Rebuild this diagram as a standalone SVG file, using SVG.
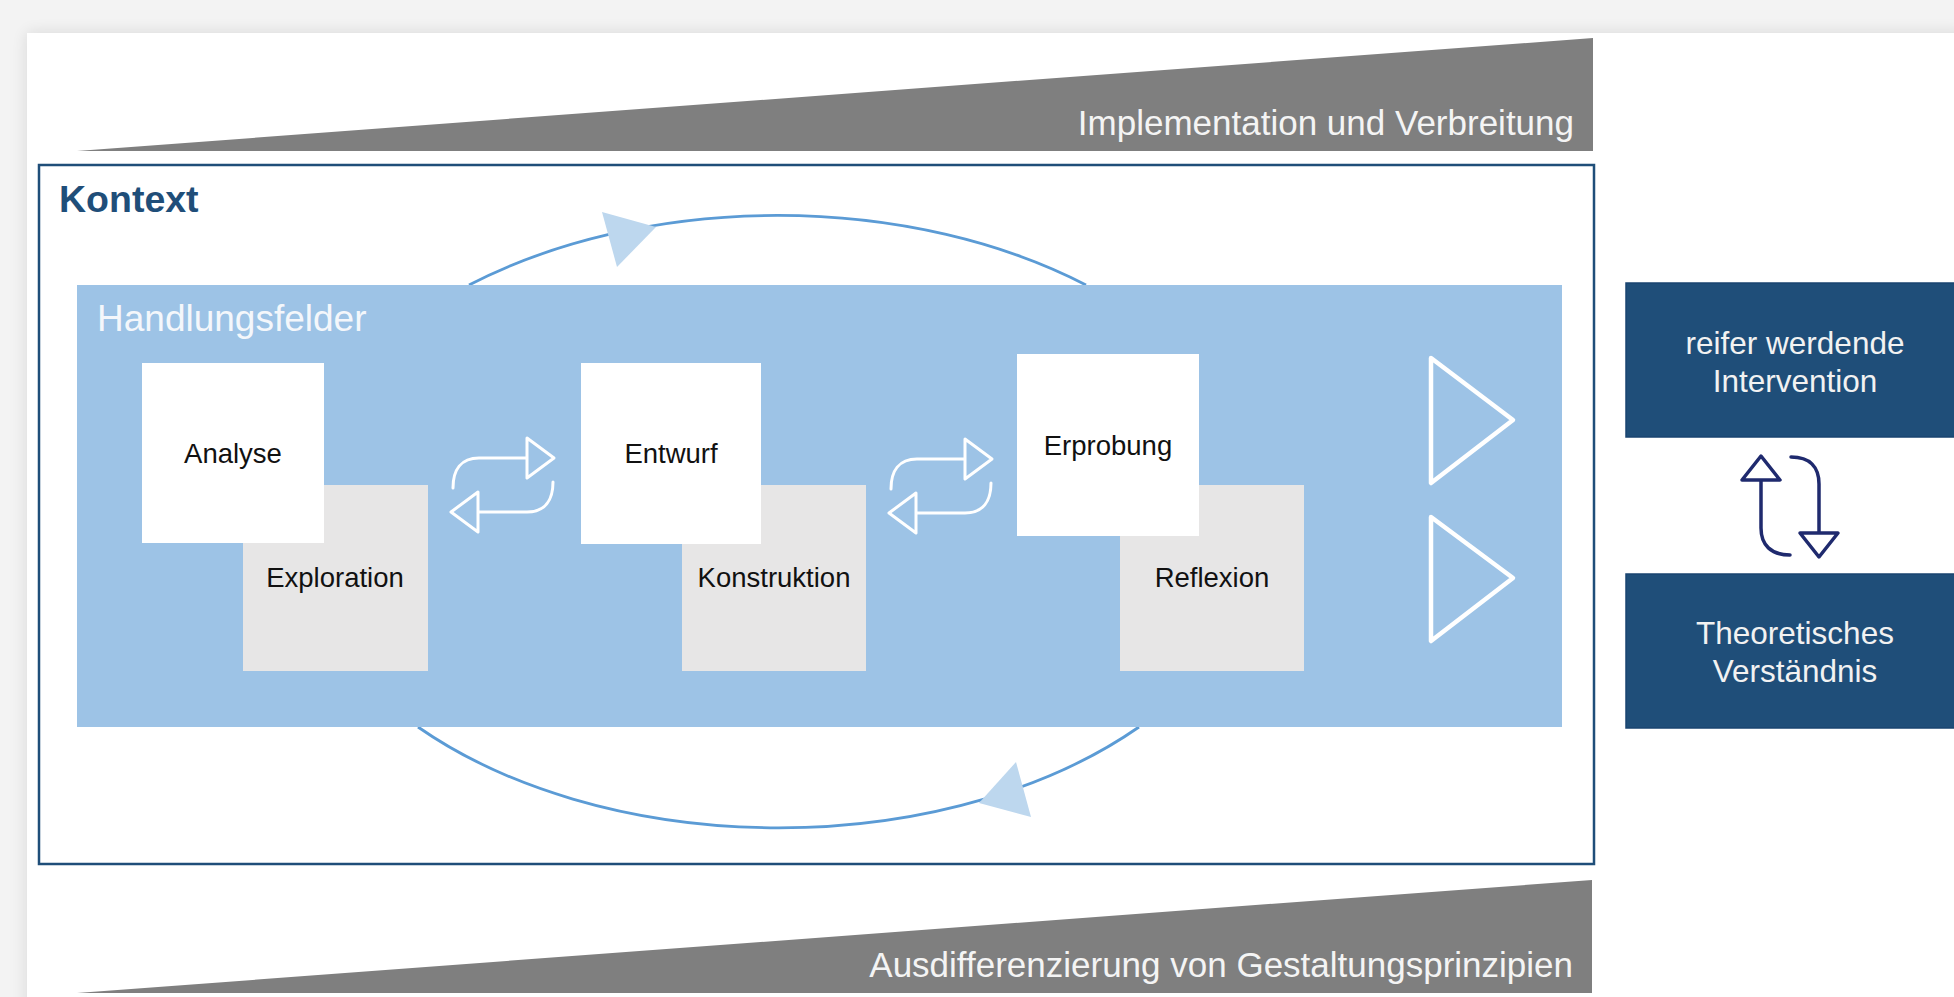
<svg xmlns="http://www.w3.org/2000/svg" width="1954" height="997" viewBox="0 0 1954 997">
  <defs>
    <filter id="cardShadow" x="-5%" y="-5%" width="110%" height="110%">
      <feGaussianBlur in="SourceAlpha" stdDeviation="8"/>
      <feOffset dx="0" dy="0"/>
      <feComponentTransfer><feFuncA type="linear" slope="0.12"/></feComponentTransfer>
      <feMerge><feMergeNode/><feMergeNode in="SourceGraphic"/></feMerge>
    </filter>
    <style>
      text { font-family: "Liberation Sans", Arial, sans-serif; }
      .wedge { fill: #7f7f7f; }
      .wedge-label { fill: #f4f4f4; font-size: 35px; text-anchor: end; }
      .step { fill: #ffffff; }
      .mode { fill: #e7e6e6; }
      .step-label, .mode-label { fill: #111111; font-size: 27.5px; text-anchor: middle; }
      .outcome { fill: #1f4e79; stroke: #1a4470; stroke-width: 1.5; }
      .outcome-label { fill: #f2f2f2; font-size: 31.5px; text-anchor: middle; }
      .cycle { fill: none; stroke: #5b9bd5; stroke-width: 2.8; }
      .cycle-head { fill: #bdd7ee; }
      .swap { fill: none; stroke: #ffffff; stroke-width: 3; stroke-linecap: round; stroke-linejoin: round; }
      .swap-head { fill: #9dc3e6; stroke: #ffffff; stroke-width: 3; stroke-linejoin: round; }
      .flow { fill: none; stroke: #ffffff; stroke-width: 4.5; stroke-linejoin: round; }
      .link { fill: none; stroke: #1f2a6e; stroke-width: 3.5; stroke-linecap: round; }
      .link-head { fill: #ffffff; stroke: #1f2a6e; stroke-width: 3.5; stroke-linejoin: round; }
    </style>
  </defs>

  <!-- page and card -->
  <rect x="0" y="0" width="1954" height="997" fill="#f3f3f3"/>
  <rect x="27" y="33" width="1940" height="980" fill="#ffffff" filter="url(#cardShadow)"/>

  <!-- top wedge -->
  <g id="implementation">
    <polygon class="wedge" points="77,151 1593,38 1593,151"/>
    <text class="wedge-label" x="1574" y="135">Implementation und Verbreitung</text>
  </g>

  <!-- context frame -->
  <g id="kontext">
    <rect x="39" y="165" width="1555" height="699" fill="#ffffff" stroke="#1f4e79" stroke-width="2.5"/>
    <text x="59" y="212" fill="#1f4e79" font-size="37.5" font-weight="bold">Kontext</text>
  </g>

  <!-- cycle arcs around the fields of action -->
  <g id="cycle">
    <path class="cycle" d="M469,285 A486,306 0 0 1 1086,285"/>
    <path class="cycle" d="M1139,727 A486,306 0 0 1 418,727"/>
  </g>

  <!-- fields of action -->
  <g id="handlungsfelder">
    <rect x="77" y="285" width="1485" height="442" fill="#9dc3e6"/>
    <text x="97" y="331" fill="#f4f7fb" font-size="37">Handlungsfelder</text>
  </g>

  <g id="exploration">
    <rect class="mode" x="243" y="485" width="185" height="186"/>
    <text class="mode-label" x="335" y="587">Exploration</text>
  </g>
  <g id="analyse">
    <rect class="step" x="142" y="363" width="182" height="180"/>
    <text class="step-label" x="233" y="463">Analyse</text>
  </g>

  <g id="konstruktion">
    <rect class="mode" x="682" y="485" width="184" height="186"/>
    <text class="mode-label" x="774" y="587">Konstruktion</text>
  </g>
  <g id="entwurf">
    <rect class="step" x="581" y="363" width="180" height="181"/>
    <text class="step-label" x="671" y="463">Entwurf</text>
  </g>

  <g id="reflexion">
    <rect class="mode" x="1120" y="485" width="184" height="186"/>
    <text class="mode-label" x="1212" y="587">Reflexion</text>
  </g>
  <g id="erprobung">
    <rect class="step" x="1017" y="354" width="182" height="182"/>
    <text class="step-label" x="1108" y="455">Erprobung</text>
  </g>

  <!-- outcomes -->
  <g id="intervention">
    <rect class="outcome" x="1626" y="283" width="340" height="154"/>
    <text class="outcome-label" x="1795" y="354">reifer werdende</text>
    <text class="outcome-label" x="1795" y="392">Intervention</text>
  </g>
  <g id="verstaendnis">
    <rect class="outcome" x="1626" y="574" width="340" height="154"/>
    <text class="outcome-label" x="1795" y="644">Theoretisches</text>
    <text class="outcome-label" x="1795" y="682">Verständnis</text>
  </g>

  <!-- bottom wedge -->
  <g id="gestaltungsprinzipien">
    <polygon class="wedge" points="77,993 1592,880 1592,993"/>
    <text class="wedge-label" x="1573" y="977">Ausdifferenzierung von Gestaltungsprinzipien</text>
  </g>

  <!-- connectors -->
  <g id="connectors">
    <!-- cycle arrowheads -->
    <polygon class="cycle-head" points="602,212 656,227 617,267"/>
    <polygon class="cycle-head" points="979,803 1016,762 1031,817"/>

    <!-- back-and-forth between the steps -->
    <g id="swap-analyse-entwurf">
      <path class="swap" d="M453,488 C453,470 461,458 479,458 L527,458"/>
      <polygon class="swap-head" points="527,438 554,458 527,478"/>
      <path class="swap" d="M553,482 C553,500 545,512 527,512 L478,512"/>
      <polygon class="swap-head" points="478,492 451,512 478,532"/>
    </g>
    <g id="swap-entwurf-erprobung" transform="translate(438,1)">
      <path class="swap" d="M453,488 C453,470 461,458 479,458 L527,458"/>
      <polygon class="swap-head" points="527,438 554,458 527,478"/>
      <path class="swap" d="M553,482 C553,500 545,512 527,512 L478,512"/>
      <polygon class="swap-head" points="478,492 451,512 478,532"/>
    </g>

    <!-- output triangles -->
    <polygon class="flow" points="1431,358 1513,420 1431,483"/>
    <polygon class="flow" points="1431,517 1513,578 1431,641"/>

    <!-- exchange between intervention and understanding -->
    <path class="link" d="M1790,555 C1771,555 1761,545 1761,528 L1761,480"/>
    <polygon class="link-head" points="1742,480 1761,456 1780,480"/>
    <path class="link" d="M1791,457 C1810,457 1819,467 1819,484 L1819,533"/>
    <polygon class="link-head" points="1800,533 1819,557 1838,533"/>
  </g>
</svg>
